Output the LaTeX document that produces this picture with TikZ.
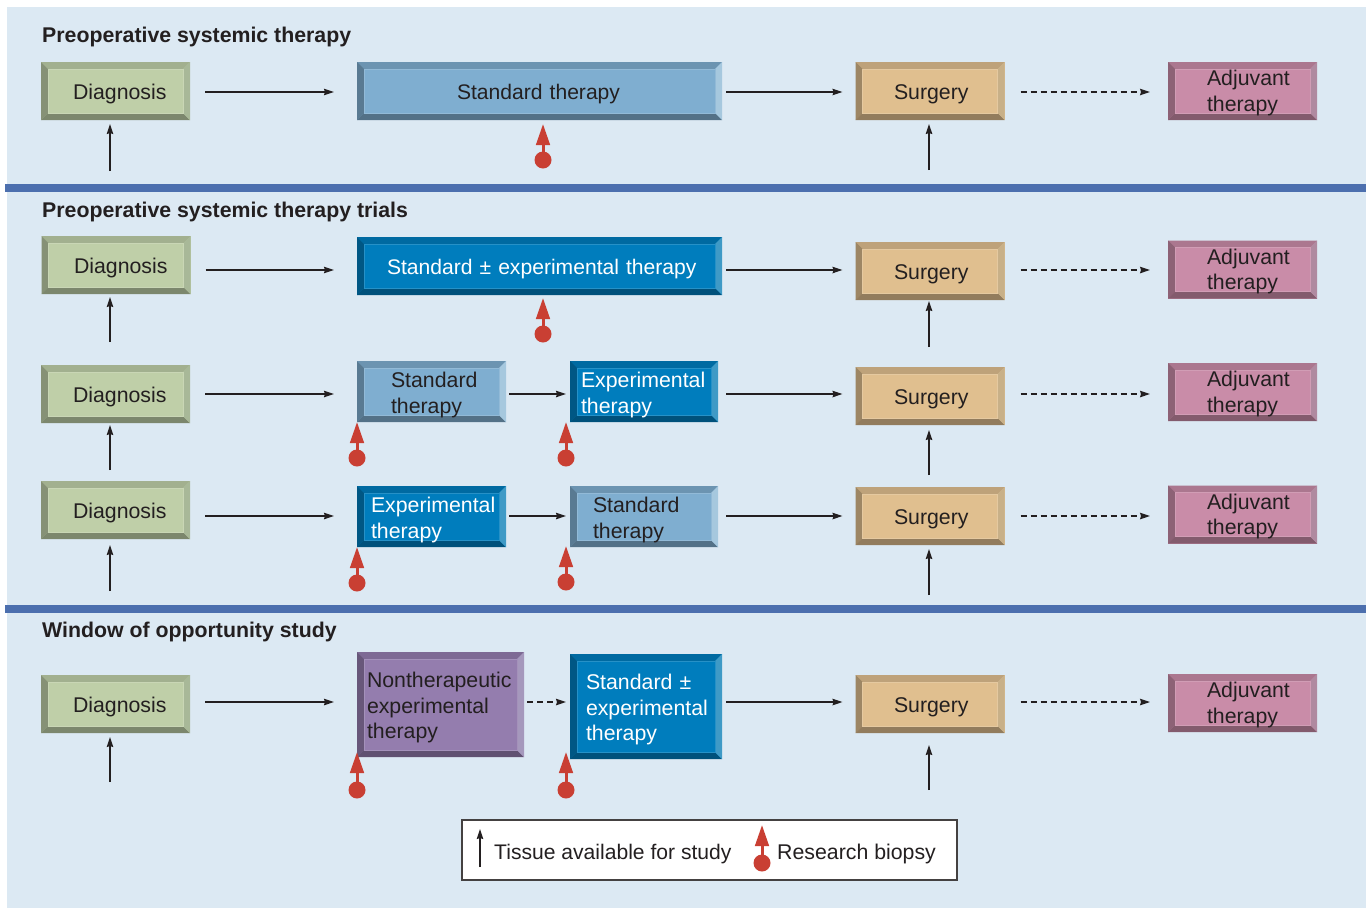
\documentclass[tikz,border=0pt]{standalone}
\usepackage{fontspec}
\setmainfont{Liberation Sans}
\usetikzlibrary{arrows.meta}
\hyphenpenalty=10000
\definecolor{panel}{HTML}{DCE9F3}
\definecolor{band}{HTML}{4C6FAE}
\definecolor{ink}{HTML}{231F20}
\definecolor{redmark}{HTML}{C93F33}
\definecolor{greenface}{HTML}{BFCFA8}
\definecolor{greenside}{HTML}{A8B898}
\definecolor{blueface}{HTML}{7FAED0}
\definecolor{blueside}{HTML}{A6C8DE}
\definecolor{deepface}{HTML}{007DBD}
\definecolor{deepside}{HTML}{3F9AC6}
\definecolor{tanface}{HTML}{E0BF8F}
\definecolor{tanside}{HTML}{C8B088}
\definecolor{pinkface}{HTML}{C98CA8}
\definecolor{pinkside}{HTML}{B08AA0}
\definecolor{purpleface}{HTML}{947DAE}
\definecolor{purpleside}{HTML}{A598BC}
\tikzset{
  drop/.code={\def\dropheight{#1pt}},
  bevel/.style 2 args={fill=#1, inner sep=0pt, outer sep=0pt, text=ink, drop=22,
    execute at begin node={\rule{0pt}{\dropheight}},
    font=\fontsize{21.3}{25.5}\selectfont,
    path picture={
      \coordinate (nw) at (path picture bounding box.north west);
      \coordinate (ne) at (path picture bounding box.north east);
      \coordinate (sw) at (path picture bounding box.south west);
      \coordinate (se) at (path picture bounding box.south east);
      \fill[#1!85!black] (nw) -- (ne) -- ([shift={(-7pt,-7pt)}]ne) -- ([shift={(7pt,-7pt)}]nw) -- cycle;
      \fill[#1!70!black] (nw) -- (sw) -- ([shift={(7pt,7pt)}]sw) -- ([shift={(7pt,-7pt)}]nw) -- cycle;
      \fill[#1!65!black] (sw) -- (se) -- ([shift={(-7pt,7pt)}]se) -- ([shift={(7pt,7pt)}]sw) -- cycle;
      \fill[#2] (ne) -- (se) -- ([shift={(-7pt,7pt)}]se) -- ([shift={(-7pt,-7pt)}]ne) -- cycle;
      \draw[#1!85!white, line width=0.6pt] ([shift={(7pt,7pt)}]sw) rectangle ([shift={(-7pt,-7pt)}]ne);
    }},
  wide/.style={minimum width=149pt, minimum height=58pt},
  long/.style={minimum width=365pt, minimum height=58pt, font=\fontsize{21.1}{25.5}\selectfont},
  tw/.style={text width=#1pt, align=left},
  diagbox/.style={bevel={greenface}{greenside}, wide, tw=85},
  stdbox/.style={bevel={blueface}{blueside}},
  expbox/.style={bevel={deepface}{deepside}, text=white},
  surgbox/.style={bevel={tanface}{tanside}, wide, tw=72},
  adjbox/.style={bevel={pinkface}{pinkside}, wide, tw=71, drop=19.5},
  nonthbox/.style={bevel={purpleface}{purpleside}},
  heading/.style={anchor=base west, inner sep=0pt, text=ink, font=\fontsize{21.3}{25}\selectfont\bfseries},
  tip/.style={-{Stealth[length=10pt,width=6.5pt,inset=1pt]}},
  flow/.style 2 args={draw=ink, line width=1.15pt, tip, shorten <=#1pt, shorten >=#2pt},
  dashflow/.style 2 args={flow={#1}{#2}, dash pattern=on 6pt off 4pt},
  tissue/.style={draw=ink, line width=1.15pt, tip, shorten >=#1pt},
  biopsy/.style={circle, fill=redmark, inner sep=0pt, minimum size=17pt},
  probe/.style={draw=redmark, line width=3pt, -{Triangle[length=21pt,width=13.5pt]}},
}
\begin{document}
\begin{tikzpicture}[x=1pt,y=-1pt]
\useasboundingbox (0,0) rectangle (1371,908);
\fill[panel] (7,7) rectangle (1366,908);
\fill[band] (5,184) rectangle (1366,192);
\fill[band] (5,605) rectangle (1366,613);

\node[heading] (head1) at (42,42) {Preoperative systemic therapy};
\node[heading] (head2) at (42,217) {Preoperative systemic therapy trials};
\node[heading] (head3) at (42,637) {Window of opportunity study};

% arrow heights of the five rows
\coordinate (r1) at (0,92);
\coordinate (r2) at (0,270);
\coordinate (r3) at (0,394);
\coordinate (r4) at (0,516);
\coordinate (r5) at (0,702);

% first row
\node[diagbox] (diag1) at (115.5,91) {Diagnosis};
\node[stdbox, long, tw=165] (std1) at (539.5,91) {Standard therapy};
\node[surgbox] (surg1) at (930,91) {Surgery};
\node[adjbox] (adj1) at (1242.5,91) {Adjuvant\\therapy};

% second row
\node[diagbox, tw=84] (diag2) at (116,265) {Diagnosis};
\node[expbox, long, tw=305] (exp2) at (539.5,266) {\mbox{Standard ± experimental therapy}};
\node[surgbox] (surg2) at (930,271) {Surgery};
\node[adjbox] (adj2) at (1242.5,269.5) {Adjuvant\\therapy};

% third row
\node[diagbox] (diag3) at (115.5,394) {Diagnosis};
\node[stdbox, minimum width=149pt, minimum height=61pt, tw=81] (std3) at (431.5,391.5) {Standard\\therapy};
\node[expbox, minimum width=148pt, minimum height=61pt, tw=126] (exp3) at (644,391.5) {Experimental\\therapy};
\node[surgbox] (surg3) at (930,396) {Surgery};
\node[adjbox] (adj3) at (1242.5,392) {Adjuvant\\therapy};

% fourth row
\node[diagbox] (diag4) at (115.5,510) {Diagnosis};
\node[expbox, minimum width=149pt, minimum height=61pt, tw=121] (exp4) at (431.5,516.5) {Experimental\\therapy};
\node[stdbox, minimum width=148pt, minimum height=61pt, tw=102] (std4) at (644,516.5) {Standard\\therapy};
\node[surgbox] (surg4) at (930,516) {Surgery};
\node[adjbox] (adj4) at (1242.5,514.5) {Adjuvant\\therapy};

% fifth row
\node[diagbox] (diag5) at (115.5,704) {Diagnosis};
\node[nonthbox, minimum width=167pt, minimum height=105pt, tw=147] (non5) at (440.5,704.5) {Nontherapeutic\\experimental\\therapy};
\node[expbox, minimum width=152pt, minimum height=105pt, tw=120] (exp5) at (646,706.5) {Standard ±\\experimental\\therapy};
\node[surgbox] (surg5) at (930,704) {Surgery};
\node[adjbox] (adj5) at (1242.5,703) {Adjuvant\\therapy};

% arrows along the rows
\draw[flow={15}{23}] (diag1.east |- r1) -- (std1.west |- r1);
\draw[flow={4}{13}] (std1.east |- r1) -- (surg1.west |- r1);
\draw[dashflow={16}{18}] (surg1.east |- r1) -- (adj1.west |- r1);

\draw[flow={15}{23}] (diag2.east |- r2) -- (exp2.west |- r2);
\draw[flow={4}{13}] (exp2.east |- r2) -- (surg2.west |- r2);
\draw[dashflow={16}{18}] (surg2.east |- r2) -- (adj2.west |- r2);

\draw[flow={15}{23}] (diag3.east |- r3) -- (std3.west |- r3);
\draw[flow={3}{4}] (std3.east |- r3) -- (exp3.west |- r3);
\draw[flow={8}{13}] (exp3.east |- r3) -- (surg3.west |- r3);
\draw[dashflow={16}{18}] (surg3.east |- r3) -- (adj3.west |- r3);

\draw[flow={15}{23}] (diag4.east |- r4) -- (exp4.west |- r4);
\draw[flow={3}{4}] (exp4.east |- r4) -- (std4.west |- r4);
\draw[flow={8}{13}] (std4.east |- r4) -- (surg4.west |- r4);
\draw[dashflow={16}{18}] (surg4.east |- r4) -- (adj4.west |- r4);

\draw[flow={15}{23}] (diag5.east |- r5) -- (non5.west |- r5);
\draw[dashflow={3}{4}] (non5.east |- r5) -- (exp5.west |- r5);
\draw[flow={4}{13}] (exp5.east |- r5) -- (surg5.west |- r5);
\draw[dashflow={16}{18}] (surg5.east |- r5) -- (adj5.west |- r5);

% tissue arrows below diagnosis and surgery
\foreach \n/\yd/\gd/\ys/\gs in {1/171/4/170/4, 2/342/3/347/1, 3/470/2/475/5, 4/591/6/595/4, 5/782/4/790/12} {
    \coordinate (td\n) at (110,\yd);
    \coordinate (ts\n) at (929,\ys);
    \draw[tissue=\gd] (td\n) -- (td\n |- diag\n.south);
    \draw[tissue=\gs] (ts\n) -- (ts\n |- surg\n.south);
}

% key
\node[draw=ink!85, line width=1.1pt, fill=white, minimum width=495pt, minimum height=60pt, inner sep=0pt] (key) at (709.5,850) {};
\node[anchor=base west, inner sep=0pt, text=ink, font=\fontsize{21.1}{25}\selectfont] (keytissue) at (494,859) {Tissue available for study};
\node[anchor=base west, inner sep=0pt, text=ink, font=\fontsize{21.3}{25}\selectfont] (keybiopsy) at (777,859) {Research biopsy};
\coordinate (k1) at (480,867);
\coordinate (k2) at (480,829);
\draw[tissue=0] (k1) -- (k2);

% research biopsies
\foreach \n/\x/\y/\h in {a/543/160/36, b/543/334/36, c/357/458/36, d/566/458/36, e/357/583/36, f/566/582/36, g/357/790/38, h/566/790/38, k/762/863/38} {
    \node[biopsy] (bio\n) at (\x,\y) {};
    \coordinate (tip\n) at (\x,\y-\h);
    \draw[probe] (bio\n.center) -- (tip\n);
}
\end{tikzpicture}
\end{document}
